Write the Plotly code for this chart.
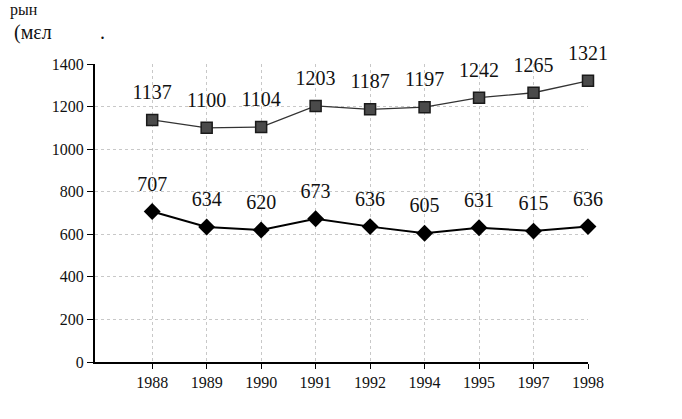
import plotly.graph_objects as go

years = ["1988", "1989", "1990", "1991", "1992", "1994", "1995", "1997", "1998"]
upper = [1137, 1100, 1104, 1203, 1187, 1197, 1242, 1265, 1321]
lower = [707, 634, 620, 673, 636, 605, 631, 615, 636]
y_ticks = [0, 200, 400, 600, 800, 1000, 1200, 1400]

xs = list(range(len(years)))
serif = "Liberation Serif, Times New Roman, serif"

W, H = 682, 419
L, R, T, B = 95, 94, 64, 57
pw, ph = W - L - R, H - T - B


def px_to_paper(px, py):
    return (px - L) / pw, (H - B - py) / ph


fig = go.Figure()
fig.add_trace(go.Scatter(
    x=xs, y=upper, mode="lines+markers",
    line=dict(color="#333", width=1.3),
    marker=dict(symbol="square", size=11, color="#4a4a4a", line=dict(color="#1a1a1a", width=1.5)),
    cliponaxis=False, showlegend=False, hoverinfo="skip",
))
fig.add_trace(go.Scatter(
    x=xs, y=lower, mode="lines+markers",
    line=dict(color="#000", width=2),
    marker=dict(symbol="diamond", size=13, color="#000"),
    cliponaxis=False, showlegend=False, hoverinfo="skip",
))
# value labels (transparent larger markers push the text further above the points)
for series in (upper, lower):
    fig.add_trace(go.Scatter(
        x=xs, y=series, mode="markers+text",
        text=[str(v) for v in series], textposition="top center",
        textfont=dict(family=serif, size=20, color="#111"),
        marker=dict(size=24, color="rgba(0,0,0,0)"),
        cliponaxis=False, showlegend=False, hoverinfo="skip",
    ))

anns = []
for txt, px, py, fs in [("pын", 8, -1, 16), ("(мεл", 12, 19, 20), (".", 98, 19, 20)]:
    ax, ay = px_to_paper(px, py)
    anns.append(dict(text=txt, x=ax, y=ay, xref="paper", yref="paper", showarrow=False,
                     xanchor="left", yanchor="top",
                     font=dict(family=serif, size=fs, color="#111")))

fig.update_layout(
    width=W, height=H,
    margin=dict(l=L, r=R, t=T, b=B),
    paper_bgcolor="white", plot_bgcolor="white",
    font=dict(family=serif, color="#111"),
    xaxis=dict(
        range=[-1.05, 8], tickvals=xs, ticktext=years,
        showgrid=True, gridcolor="#c8c8c8", griddash="dot", gridwidth=1,
        showline=True, linecolor="#000", linewidth=2,
        ticks="outside", ticklen=5, tickcolor="#000",
        tickfont=dict(family=serif, size=16, color="#111"),
        zeroline=False,
    ),
    yaxis=dict(
        range=[0, 1400], tickvals=y_ticks,
        showgrid=True, gridcolor="#c8c8c8", griddash="dot", gridwidth=1,
        showline=True, linecolor="#000", linewidth=2,
        ticks="outside", ticklen=6, tickcolor="#000",
        tickfont=dict(family=serif, size=16, color="#111"),
        zeroline=False,
    ),
    annotations=anns,
)

fig.write_html("out.html", config={"displayModeBar": False},
               post_script="document.body.style.margin='0';")
